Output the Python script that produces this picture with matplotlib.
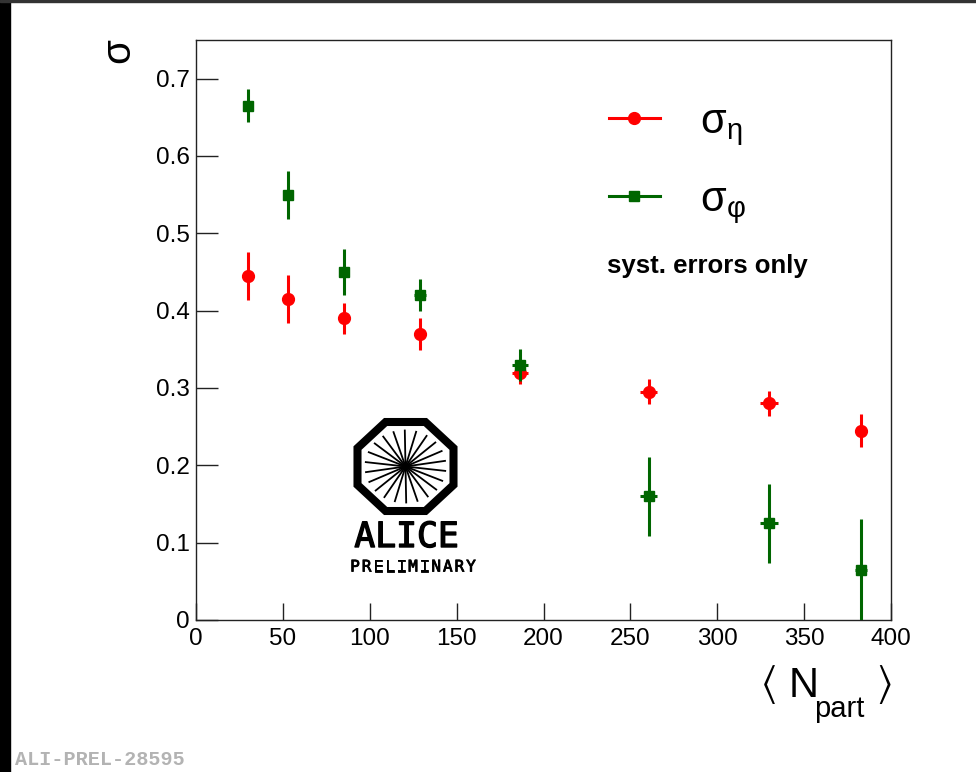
import numpy as np
import matplotlib.pyplot as plt
import matplotlib.patheffects as pe
from matplotlib.lines import Line2D
from matplotlib.patches import Polygon, Rectangle

plt.rcParams['font.family'] = ['Liberation Sans', 'DejaVu Sans']
plt.rcParams['mathtext.fontset'] = 'custom'
plt.rcParams['mathtext.rm'] = 'Liberation Sans'
plt.rcParams['mathtext.it'] = 'Liberation Sans'
plt.rcParams['mathtext.fallback'] = 'stixsans'

# Centrality classes: mean number of participants
npart = [30.0, 52.8, 85.0, 128.9, 186.4, 260.5, 329.7, 382.8]
npart_err = [1.3, 2.0, 2.6, 3.3, 4.5, 5.0, 5.2, 3.4]

sigma_eta = [0.445, 0.415, 0.39, 0.37, 0.32, 0.295, 0.28, 0.245]
sigma_eta_err = [0.031, 0.031, 0.02, 0.021, 0.015, 0.016, 0.016, 0.021]

sigma_phi = [0.665, 0.55, 0.45, 0.42, 0.33, 0.16, 0.125, 0.065]
sigma_phi_err = [0.021, 0.031, 0.03, 0.021, 0.021, 0.051, 0.051, 0.066]

red = '#ff0000'
green = '#006600'

fig = plt.figure(figsize=(9.76, 7.72), dpi=100)
ax = fig.add_axes([196 / 976, 1 - 620 / 772, 695 / 976, 580 / 772])

ax.errorbar(npart, sigma_eta, yerr=sigma_eta_err, xerr=npart_err, fmt='o',
            color=red, ms=8.5, elinewidth=2.2, capsize=0, zorder=3)
ax.errorbar(npart, sigma_phi, yerr=sigma_phi_err, xerr=npart_err, fmt='s',
            color=green, ms=7.5, elinewidth=2.2, capsize=0, zorder=4)

ax.set_xlim(0, 400)
ax.set_ylim(0, 0.75)
ax.set_xticks(np.arange(0, 401, 50))
ax.set_yticks([0, 0.1, 0.2, 0.3, 0.4, 0.5, 0.6, 0.7])
ax.set_yticklabels(['0', '0.1', '0.2', '0.3', '0.4', '0.5', '0.6', '0.7'])
ax.tick_params(axis='both', direction='in', labelsize=17.5, width=1, color='#222222')
ax.tick_params(axis='y', length=15.5, pad=4.5)
ax.tick_params(axis='x', length=12, pad=6)
for s in ax.spines.values():
    s.set_linewidth(1)
    s.set_color('#222222')

ax.set_ylabel('σ', fontsize=29, rotation=90)
ax.yaxis.set_label_coords(-0.085, 0.981)

# x title built from pieces so the subscript sits low, as in ROOT
px = lambda x, y: ((x - 196) / 695, (620 - y) / 580)
ax.text(*px(768, 684), r'$\langle$', transform=ax.transAxes, fontsize=30,
        ha='center', va='center')
ax.text(*px(789, 697), 'N', transform=ax.transAxes, fontsize=30,
        ha='left', va='baseline')
ax.text(*px(814, 717), 'part', transform=ax.transAxes, fontsize=21,
        ha='left', va='baseline')
ax.text(*px(884, 684), r'$\rangle$', transform=ax.transAxes, fontsize=30,
        ha='center', va='center')

handles = [Line2D([], [], color=red, marker='o', ms=8.5, lw=2.2),
           Line2D([], [], color=green, marker='s', ms=7.5, lw=2.2)]
ax.legend(handles, [r'$\mathrm{σ}_{\mathrm{η}}$', r'$\mathrm{σ}_{\mathrm{φ}}$'],
          loc='upper left', bbox_to_anchor=(0.57, 0.922), frameon=False,
          fontsize=30, handlelength=1.22, handletextpad=0.96, labelspacing=0.77,
          borderaxespad=0)
ax.text(0.592, 0.61, 'syst. errors only', transform=ax.transAxes,
        fontsize=18.5, fontweight='bold', ha='left', va='center')

# ALICE logo, drawn in pixel units of its own small axes
lx = fig.add_axes([330 / 976, 1 - 580 / 772, 160 / 976, 165 / 772])
lx.set_xlim(330, 490)
lx.set_ylim(580, 415)
lx.axis('off')
cx, cy = 405.5, 466.5
ang = np.deg2rad(22.5 + 45 * np.arange(8))
octagon = np.column_stack([cx + 48 / np.cos(np.pi / 8) * np.cos(ang),
                           cy + 44.5 / np.cos(np.pi / 8) * np.sin(ang)])
lx.add_patch(Polygon(octagon, closed=True, fill=False, ec='black', lw=5.8,
                     joinstyle='miter'))
for a in np.deg2rad(np.arange(0, 180, 16.4) + 7):
    dx, dy = 40 * np.cos(a), 36 * np.sin(a)
    lx.plot([cx - dx, cx + dx], [cy - dy, cy + dy], color='black', lw=1.3)
lx.text(406.5, 537, 'ALICE', fontsize=25, family='DejaVu Sans Mono',
        ha='center', va='center',
        path_effects=[pe.withStroke(linewidth=1.0, foreground='black')])
for i, ch in enumerate('PRELIMINARY'):
    lx.text(355 + i * 11.6, 567, ch, fontsize=11.5, family='DejaVu Sans Mono',
            ha='center', va='center',
            path_effects=[pe.withStroke(linewidth=0.6, foreground='black')])

# page frame and figure tag
fig.patches.append(Rectangle((0, 0), 10 / 976, 1, transform=fig.transFigure,
                             color='black', zorder=0))
fig.patches.append(Rectangle((0, 1 - 1.5 / 772), 1, 1.5 / 772,
                             transform=fig.transFigure, color='#333333', zorder=0))
fig.text(15 / 976, 3 / 772, 'ALI-PREL-28595', family='Liberation Mono',
         fontweight='bold', fontsize=14.5, color='#b3b3b3', ha='left', va='bottom')

fig.savefig('out.png', dpi=100)
